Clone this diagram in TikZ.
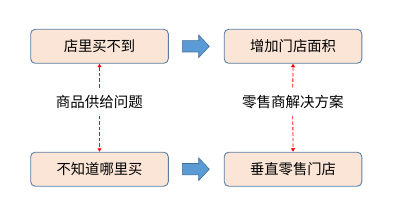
\documentclass[tikz,border=0pt]{standalone}
\usepackage{fontspec}
\setmainfont{Noto Sans CJK SC}
\usetikzlibrary{arrows.meta}
\definecolor{boxfill}{HTML}{FBE5D6}
\definecolor{boxline}{HTML}{5A7EA6}
\definecolor{arrfill}{HTML}{5B9BD5}
\definecolor{arrline}{HTML}{41719C}
\tikzset{
  stepbox/.style={draw=boxline, line width=0.9pt, fill=boxfill, rounded corners=4.5pt,
    minimum width=137.6pt, minimum height=34pt, inner sep=0pt,
    font=\fontsize{14.3}{17}\selectfont},
  lbl/.style={inner sep=0pt, minimum height=28pt, font=\fontsize{14.5}{17}\selectfont},
  reddash/.style={draw=red, line width=0.8pt, dash pattern=on 3.5pt off 2pt,
    -{Triangle[length=3.5pt,width=4pt]}},
  blockarrow/.style={fill=arrfill, draw=arrline, line width=0.6pt}
}
\begin{document}
\begin{tikzpicture}[x=1pt,y=1pt]
\useasboundingbox (0,0) rectangle (402,212);
\node[stepbox] (lt) at (99.5,165.7) {店里买不到};
\node[stepbox] (rt) at (293,165.7) {增加门店面积};
\node[stepbox] (lb) at (99.5,42.8) {不知道哪里买};
\node[stepbox] (rb) at (293,42.8) {垂直零售门店};
\node[lbl] (ll) at (99.5,110.3) {商品供给问题};
\node[lbl] (rl) at (292.8,110.3) {零售商解决方案};
\draw[reddash] (ll.north) -- (lt.south);
\draw[reddash] (ll.south) -- (lb.north);
\draw[reddash] (rl.north) -- (rt.south);
\draw[reddash] (rl.south) -- (rb.north);
% block arrows
\foreach \cy/\nm in {165.7/ta, 42.8/ba}{
  \coordinate (\nm) at (182.3,\cy);
  \draw[blockarrow] (\nm) ++(0,5.7) -- ++(16.4,0) -- ++(0,5.6) -- ++(10.6,-11.3)
     -- ++(-10.6,-11.3) -- ++(0,5.6) -- ++(-16.4,0) -- cycle;
}
\end{tikzpicture}
\end{document}
